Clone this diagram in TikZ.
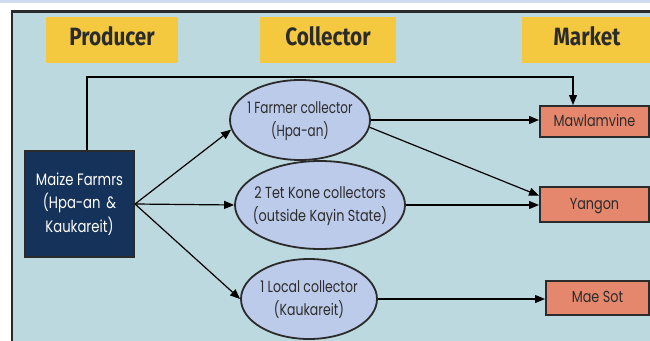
\documentclass[tikz,border=0pt]{standalone}
\usepackage{fontspec}
\usepackage{graphicx}
\setmainfont{Poppins}
\newfontfamily\hdfont{Fira Sans}
\usetikzlibrary{arrows.meta,calc,shapes.geometric}

\definecolor{bgblue}{HTML}{BCD9E0}
\definecolor{band}{HTML}{CFDBEF}
\definecolor{hdyellow}{HTML}{F4C93F}
\definecolor{navy}{HTML}{15325A}
\definecolor{ellfill}{HTML}{BDCBEA}
\definecolor{salmon}{HTML}{E5876D}
\definecolor{framec}{HTML}{2A2A2A}
\definecolor{ink}{HTML}{2B2B2B}

\newcommand\sqz[2]{\scalebox{#1}[1]{\begin{tabular}{@{}c@{}}#2\end{tabular}}}

\tikzset{
  hdbox/.style={rectangle, fill=hdyellow, inner sep=0pt, minimum height=46pt,
    text=ink, font=\hdfont\bfseries\fontsize{25}{28}\selectfont},
  ellbox/.style={ellipse, draw=ink, line width=1.8pt, fill=ellfill, inner sep=0pt},
  mktbox/.style={rectangle, draw=ink, line width=2pt, fill=salmon, inner sep=0pt},
  txt/.style={text=ink, inner sep=0pt, font=\fontsize{16}{23}\selectfont},
  conn/.style={draw=black, line width=1.2pt, -{Triangle[length=10pt,width=8pt]}}
}

\begin{document}
\begin{tikzpicture}[x=1pt,y=-1pt]
\useasboundingbox (0,0) rectangle (650,340);
\clip (0,0) rectangle (650,340);
\fill[white] (0,0) rectangle (650,340);
\fill[band] (0,0) rectangle (650,2.7);
\draw[draw=framec, line width=2.5pt, fill=bgblue] (12.2,11.7) rectangle (720,420);

% headers
\node[hdbox, minimum width=132pt] (hprod) at (112,40) {\sqz{0.83}{Producer}};
\node[hdbox, minimum width=136pt] (hcoll) at (328,40) {\sqz{0.83}{Collector}};
\node[hdbox, minimum width=130pt] (hmark) at (587,40) {\sqz{0.83}{Market}};

% producer
\node[rectangle, draw=ink, line width=2pt, fill=navy, minimum width=109pt, minimum height=106pt, inner sep=0pt] (maize) at (79.5,204) {};
\node[txt, text=white, font=\fontsize{16.5}{23.5}\selectfont] (maizet) at (maize.center) {\sqz{0.8}{Maize Farmrs\\(Hpa-an \,\&\\Kaukareit)}};

% collectors
\node[ellbox, minimum width=140pt, minimum height=80pt] (e1) at (300,120) {};
\node[txt] (e1t) at (e1.center) {\sqz{0.75}{1 Farmer collector\\(Hpa-an)}};
\node[ellbox, minimum width=170pt, minimum height=88pt] (e2) at (320,205) {};
\node[txt] (e2t) at (e2.center) {\sqz{0.8}{2 Tet Kone collectors\\(outside Kayin State)}};
\node[ellbox, minimum width=136pt, minimum height=80pt] (e3) at (309,299) {};
\node[txt] (e3t) at (e3.center) {\sqz{0.78}{1 Local collector\\(Kaukareit)}};

% markets
\node[mktbox, minimum width=109pt, minimum height=31pt] (mawl) at (594.5,121.5) {};
\node[txt] (mawlt) at (mawl.center) {\sqz{0.8}{Mawlamvine}};
\node[mktbox, minimum width=109pt, minimum height=35pt] (yang) at (594.5,204.5) {};
\node[txt] (yangt) at (yang.center) {\sqz{0.8}{Yangon}};
\node[mktbox, minimum width=103pt, minimum height=34pt] (maes) at (597.5,298) {};
\node[txt] (maest) at (maes.center) {\sqz{0.8}{Mae Sot}};

% connectors
\coordinate (topy) at (0,77);
\draw[conn] ([xshift=7.5pt]maize.north) -- ([xshift=7.5pt]maize.north |- topy)
   -| ([xshift=-21.5pt]mawl.north);
\draw[conn] (maize.east) -- (e1.188);
\draw[conn] (maize.east) -- (e2.west);
\draw[conn] (maize.east) -- (e3.west);
\draw[conn] (e1.east) -- (e1.east -| mawl.west);
\draw[conn] (e1.-6) -- ($(yang.north west)!0.26!(yang.south west)$);
\draw[conn] (e2.east) -- (e2.east -| yang.west);
\draw[conn] (e3.east) -- (e3.east -| maes.west);
\end{tikzpicture}
\end{document}
